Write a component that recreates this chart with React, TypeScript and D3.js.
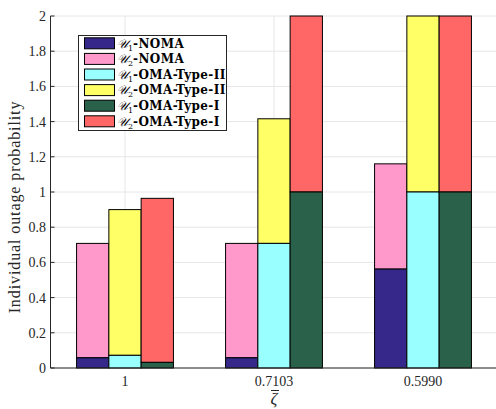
import React from "react";
import * as d3 from "d3";

const categories = ["1", "0.7103", "0.5990"];
const seriesNames = ["NOMA", "OMA-Type-II", "OMA-Type-I"];
// per scheme: user 1 part and user 2 part (stacked)
const u1Values = [
  [0.058, 0.072, 0.032],
  [0.058, 0.708, 1.0],
  [0.562, 1.0, 1.0],
];
const u2Values = [
  [0.65, 0.828, 0.932],
  [0.65, 0.708, 1.0],
  [0.598, 1.0, 1.0],
];
const u1Colors = ["#35288a", "#99ffff", "#2a614a"];
const u2Colors = ["#ff99cc", "#ffff66", "#ff6666"];
const yTicks = [0, 0.2, 0.4, 0.6, 0.8, 1, 1.2, 1.4, 1.6, 1.8, 2];
const legendItems = [
  { user: "1", name: "NOMA", color: u1Colors[0] },
  { user: "2", name: "NOMA", color: u2Colors[0] },
  { user: "1", name: "OMA-Type-II", color: u1Colors[1] },
  { user: "2", name: "OMA-Type-II", color: u2Colors[1] },
  { user: "1", name: "OMA-Type-I", color: u1Colors[2] },
  { user: "2", name: "OMA-Type-I", color: u2Colors[2] },
];

const W = 496;
const H = 409;
const FONT = "Liberation Serif";
const LFONT = "DejaVu Serif";

export default function App() {
  const x = d3.scaleLinear().domain([0.5, 3.5]).range([50.5, 497.5]);
  const y = d3.scaleLinear().domain([0, 2]).range([368, 16]);
  const barW = 0.2167;
  const fmt = (v: number) => (v === 0 || v === 1 || v === 2 ? String(v) : d3.format(".1f")(v));

  return (
    <svg width={W} height={H} style={{ position: "absolute", left: 0, top: 0 }}>
      <rect x={0} y={0} width={W} height={H} fill="#fff" />
      {/* grid */}
      {yTicks.map((t) => (
        <line key={"gy" + t} x1={x(0.5)} x2={x(3.5)} y1={y(t)} y2={y(t)} stroke="#e6e6e6" strokeWidth={1} />
      ))}
      {categories.map((c, i) => (
        <line key={"gx" + c} x1={x(i + 1)} x2={x(i + 1)} y1={y(0)} y2={y(2)} stroke="#e6e6e6" strokeWidth={1} />
      ))}
      {/* bars */}
      {categories.map((c, i) =>
        seriesNames.map((s, j) => {
          const cx = i + 1 + (j - 1) * barW;
          const x0 = x(cx - barW / 2);
          const x1 = x(cx + barW / 2);
          const a = u1Values[i][j];
          const b = u2Values[i][j];
          return (
            <g key={c + s}>
              <rect x={x0} y={y(a + b)} width={x1 - x0} height={y(a) - y(a + b)} fill={u2Colors[j]} stroke="#000" strokeWidth={1} />
              <rect x={x0} y={y(a)} width={x1 - x0} height={y(0) - y(a)} fill={u1Colors[j]} stroke="#000" strokeWidth={1} />
            </g>
          );
        })
      )}
      {/* axes */}
      <line x1={x(0.5)} x2={x(3.5)} y1={y(0)} y2={y(0)} stroke="#262626" strokeWidth={1} />
      <line x1={x(0.5)} x2={x(0.5)} y1={y(0)} y2={y(2)} stroke="#262626" strokeWidth={1} />
      {yTicks.map((t) => (
        <g key={"yt" + t}>
          <line x1={x(0.5)} x2={x(0.5) + 4} y1={y(t)} y2={y(t)} stroke="#262626" />
          <text x={46} y={y(t)} dy="0.35em" textAnchor="end" fontFamily={FONT} fontSize={14} fill="#262626">
            {fmt(t)}
          </text>
        </g>
      ))}
      {categories.map((c, i) => (
        <text key={"xt" + c} x={x(i + 1)} y={386} textAnchor="middle" fontFamily={FONT} fontSize={14} fill="#262626">
          {c}
        </text>
      ))}
      <text
        transform={`translate(20,207) rotate(-90)`}
        textAnchor="middle"
        fontFamily={FONT}
        fontSize={16}
        letterSpacing={0.9}
        fill="#262626"
      >
        Individual outage probability
      </text>
      <text x={x(2)} y={404} textAnchor="middle" fontFamily={FONT} fontSize={17} fontStyle="italic" fill="#262626">
        {"\u03B6"}
      </text>
      <line x1={x(2) - 3} x2={x(2) + 5} y1={390.5} y2={390.5} stroke="#262626" strokeWidth={1} />
      {/* legend */}
      <rect x={78.5} y={35.5} width={148} height={95} fill="#fff" stroke="#262626" strokeWidth={1} />
      {legendItems.map((it, k) => {
        const cy = 43.3 + k * 15.6;
        return (
          <g key={"lg" + k}>
            <rect x={84.5} y={cy - 5.5} width={30} height={11} fill={it.color} stroke="#000" strokeWidth={1} />
            <text x={117} y={cy} dy="0.35em" fontFamily={LFONT} fontSize={12} fill="#000">
              <tspan fontStyle="italic">{"\u{1D4B0}"}</tspan>
              <tspan fontSize={8} dy={3}>{it.user}</tspan>
              <tspan dy={-3} fontWeight="bold" letterSpacing={0.4}>{"-" + it.name}</tspan>
            </text>
          </g>
        );
      })}
    </svg>
  );
}
